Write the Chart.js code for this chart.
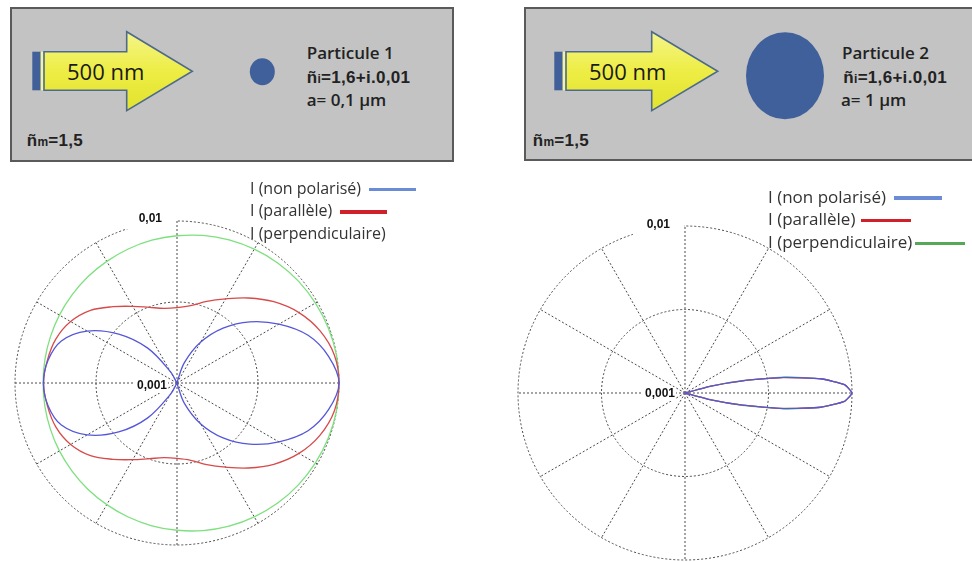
<!DOCTYPE html>
<html><head><meta charset="utf-8">
<script src="https://cdn.jsdelivr.net/npm/chart.js@4"></script>
<style>
html,body{margin:0;padding:0;background:#fff;}
body{width:972px;height:562px;overflow:hidden;position:relative;font-family:"Open Sans",sans-serif;}
#art{position:absolute;left:0;top:0;}
.t{position:absolute;white-space:nowrap;color:#222;line-height:1;transform:translateY(-50%);}
.os{font-family:"Open Sans",sans-serif;font-weight:600;font-size:17px;}
.ar{font-family:"Liberation Sans",Arial,sans-serif;font-weight:bold;font-size:17px;letter-spacing:0.3px;}
.sm{font-size:12px;}
.nm{font-family:"Open Sans",sans-serif;font-size:22px;color:#1a1a1a;}
.cv{position:absolute;}
.lg{position:absolute;color:#333;font-family:"Open Sans",sans-serif;white-space:nowrap;}
.lg div{height:22.6px;line-height:22.6px;}
.lg i{display:inline-block;height:3.5px;vertical-align:middle;}
</style>
</head>
<body>
<svg id="art" width="972" height="562">
  <defs>
    <linearGradient id="yg" x1="0" y1="0" x2="0" y2="1">
      <stop offset="0" stop-color="#f5f58a"/>
      <stop offset="0.5" stop-color="#eded45"/>
      <stop offset="1" stop-color="#e2e22e"/>
    </linearGradient>
  </defs>
  <rect x="11" y="8" width="442" height="153" fill="#c3c3c3" stroke="#5a5a5a" stroke-width="2"/>
  <rect x="525" y="8" width="460" height="152" fill="#c3c3c3" stroke="#5a5a5a" stroke-width="2"/>
  <rect x="32.3" y="51.7" width="8.4" height="38.6" fill="#41609a"/>
  <rect x="40.7" y="51.7" width="2.8" height="38.6" fill="#f3f3a0"/>
  <polygon points="44,51.7 126.7,51.7 126.7,31.7 192.3,71.2 126.7,110.7 126.7,90.3 44,90.3" fill="url(#yg)" stroke="#4d6a8c" stroke-width="1.6" stroke-linejoin="miter"/>
  <rect x="554.3" y="51.7" width="8.4" height="38.6" fill="#41609a"/>
  <rect x="562.7" y="51.7" width="2.8" height="38.6" fill="#f3f3a0"/>
  <polygon points="566,51.7 651.7,51.7 651.7,31.7 717.7,71.2 651.7,110.7 651.7,90.3 566,90.3" fill="url(#yg)" stroke="#4d6a8c" stroke-width="1.6" stroke-linejoin="miter"/>
  <ellipse cx="262.3" cy="71.7" rx="12.5" ry="13.5" fill="#40609b"/>
  <ellipse cx="785" cy="75.7" rx="39" ry="43.5" fill="#40609b"/>
</svg>

<div class="t nm" style="left:67px;top:71px">500 nm</div>
<div class="t os" style="left:306.7px;top:51.7px">Particule 1</div>
<div class="t ar" style="left:306.7px;top:77.3px">ñ<span class="sm">i</span>=1,6+i.0,01</div>
<div class="t os" style="left:306.7px;top:99.3px">a= 0,1 µm</div>
<div class="t ar" style="left:26.7px;top:140px">ñ<span class="sm">m</span>=1,5</div>

<div class="t nm" style="left:589px;top:71px">500 nm</div>
<div class="t os" style="left:842px;top:51.7px">Particule 2</div>
<div class="t ar" style="left:843.3px;top:77.3px">ñ<span class="sm">i</span>=1,6+i.0,01</div>
<div class="t os" style="left:841px;top:99px">a= 1 µm</div>
<div class="t ar" style="left:532.7px;top:140px">ñ<span class="sm">m</span>=1,5</div>

<div class="cv" style="left:1px;top:207px;width:352px;height:352px"><canvas id="c1" width="352" height="352"></canvas></div>
<div class="cv" style="left:504px;top:212px;width:362px;height:362px"><canvas id="c2" width="362" height="362"></canvas></div>

<div class="lg" style="left:250px;top:176.7px;font-size:16px">
  <div>I (non polarisé)<i style="margin-left:8px;width:47px;background:#6a8cd5"></i></div>
  <div>I (parallèle)<i style="margin-left:8px;width:47px;background:#d0202a"></i></div>
  <div>I (perpendiculaire)</div>
</div>
<div class="lg" style="left:768px;top:185.7px;font-size:17px">
  <div>I (non polarisé)<i style="margin-left:8px;width:48px;background:#6a8cd5"></i></div>
  <div>I (parallèle)<i style="margin-left:6px;width:50px;background:#d0202a"></i></div>
  <div>I (perpendiculaire)<i style="margin-left:3px;width:50px;background:#55a855"></i></div>
</div>

<script>
// ---- data ----
const seriesNames = ['I (non polarisé)', 'I (parallèle)', 'I (perpendiculaire)'];
const curveColors = ['#5557d8', '#d84a4a', '#7ee07e'];
const tickLabels = ['0,001', '0,01'];
const tickValues = [0.001, 0.01];

// Particle 1: scattering angle, clockwise from the right, every 10°
const angles1 = ['0','10','20','30','40','50','60','70','80','90','100','110','120','130','140','150','160','170',
                 '180','190','200','210','220','230','240','250','260','270','280','290','300','310','320','330','340','350'];
const p1NonPol = [0.01000,0.00891,0.00726,0.00533,0.00387,0.00277,0.00195,0.00136,0.00102,0.00100,0.00100,0.00100,0.00120,0.00191,0.00295,0.00438,0.00575,0.00643,
                  0.00667,0.00643,0.00575,0.00438,0.00295,0.00191,0.00120,0.00100,0.00100,0.00100,0.00102,0.00136,0.00195,0.00277,0.00387,0.00533,0.00726,0.00891];
const p1Par    = [0.01000,0.00970,0.00871,0.00740,0.00603,0.00484,0.00398,0.00344,0.00305,0.00292,0.00294,0.00314,0.00352,0.00412,0.00498,0.00573,0.00624,0.00649,
                  0.00667,0.00649,0.00624,0.00573,0.00498,0.00412,0.00352,0.00314,0.00294,0.00292,0.00305,0.00344,0.00398,0.00484,0.00603,0.00740,0.00871,0.00970];
const p1Perp   = [0.01000,0.00998,0.00986,0.00970,0.00951,0.00927,0.00899,0.00871,0.00841,0.00811,0.00785,0.00759,0.00736,0.00718,0.00701,0.00689,0.00679,0.00673,
                  0.00671,0.00673,0.00679,0.00689,0.00701,0.00718,0.00736,0.00759,0.00785,0.00811,0.00841,0.00871,0.00899,0.00927,0.00951,0.00970,0.00986,0.00998];

// Particle 2: every 3°
const angles2 = [];
for (let a = 0; a < 360; a += 3) angles2.push(String(a));
const p2NonPol = [
 0.01000,0.00904,0.00656,0.00395,0.00225,0.00145,0.001,0.001,0.001,0.001,0.001,0.001,
 0.001,0.001,0.001,0.001,0.001,0.001,0.001,0.001,0.001,0.001,0.001,0.001,
 0.001,0.001,0.001,0.001,0.001,0.001,0.001,0.001,0.001,0.001,0.001,0.001,
 0.001,0.001,0.001,0.001,0.001,0.001,0.001,0.001,0.001,0.001,0.001,0.001,
 0.001,0.001,0.001,0.001,0.001,0.001,0.001,0.001,0.001,0.001,0.001,0.001,
 0.001,0.001,0.001,0.001,0.001,0.001,0.001,0.001,0.001,0.001,0.001,0.001,
 0.001,0.001,0.001,0.001,0.001,0.001,0.001,0.001,0.001,0.001,0.001,0.001,
 0.001,0.001,0.001,0.001,0.001,0.001,0.001,0.001,0.001,0.001,0.001,0.001,
 0.001,0.001,0.001,0.001,0.001,0.001,0.001,0.001,0.001,0.001,0.001,0.001,
 0.001,0.001,0.001,0.001,0.001,0.001,0.001,0.00145,0.00225,0.00395,0.00656,0.00904];
const p2Par = [
 0.01000,0.00904,0.00656,0.00389,0.00225,0.00145,0.001,0.001,0.001,0.001,0.001,0.001,
 0.001,0.001,0.001,0.001,0.001,0.001,0.001,0.001,0.001,0.001,0.001,0.001,
 0.001,0.001,0.001,0.001,0.001,0.001,0.001,0.001,0.001,0.001,0.001,0.001,
 0.001,0.001,0.001,0.001,0.001,0.001,0.001,0.001,0.001,0.001,0.001,0.001,
 0.001,0.001,0.001,0.001,0.001,0.001,0.001,0.001,0.001,0.001,0.001,0.001,
 0.001,0.001,0.001,0.001,0.001,0.001,0.001,0.001,0.001,0.001,0.001,0.001,
 0.001,0.001,0.001,0.001,0.001,0.001,0.001,0.001,0.001,0.001,0.001,0.001,
 0.001,0.001,0.001,0.001,0.001,0.001,0.001,0.001,0.001,0.001,0.001,0.001,
 0.001,0.001,0.001,0.001,0.001,0.001,0.001,0.001,0.001,0.001,0.001,0.001,
 0.001,0.001,0.001,0.001,0.001,0.001,0.001,0.00145,0.00225,0.00389,0.00656,0.00904];
const p2Perp = [
 0.01000,0.00904,0.00656,0.00409,0.00229,0.00145,0.001,0.001,0.001,0.001,0.001,0.001,
 0.001,0.001,0.001,0.001,0.001,0.001,0.001,0.001,0.001,0.001,0.001,0.001,
 0.001,0.001,0.001,0.001,0.001,0.001,0.001,0.001,0.001,0.001,0.001,0.001,
 0.001,0.001,0.001,0.001,0.001,0.001,0.001,0.001,0.001,0.001,0.001,0.001,
 0.001,0.001,0.001,0.001,0.001,0.001,0.001,0.001,0.001,0.001,0.001,0.001,
 0.001,0.001,0.001,0.001,0.001,0.001,0.001,0.001,0.001,0.001,0.001,0.001,
 0.001,0.001,0.001,0.001,0.001,0.001,0.001,0.001,0.001,0.001,0.001,0.001,
 0.001,0.001,0.001,0.001,0.001,0.001,0.001,0.001,0.001,0.001,0.001,0.001,
 0.001,0.001,0.001,0.001,0.001,0.001,0.001,0.001,0.001,0.001,0.001,0.001,
 0.001,0.001,0.001,0.001,0.001,0.001,0.001,0.00145,0.00229,0.00409,0.00656,0.00904];

// ---- drawing ----
const tickLabelPlugin = {
  id: 'tickLabelsLog',
  beforeDatasetsDraw(chart, args, opts) {
    const s = chart.scales.r, ctx = chart.ctx;
    ctx.save();
    ctx.font = 'bold 12px "Liberation Sans", Arial, sans-serif';
    ctx.textAlign = 'right';
    ctx.textBaseline = 'middle';
    tickLabels.forEach((lab, k) => {
      const d = s.getDistanceFromCenterForValue(Math.log10(tickValues[k]));
      const outer = d > 1;
      const x = s.xCenter - (outer ? 15 : 10);
      const y = s.yCenter - d + (outer ? opts.dyOuter : opts.dyCenter);
      const w = ctx.measureText(lab).width;
      ctx.fillStyle = '#fff';
      if (outer) ctx.fillRect(s.xCenter - 52, y - 9, 51, 19);
      else ctx.fillRect(x - w - 2, y - 7, w + 3, 14);
      ctx.fillStyle = '#111';
      ctx.fillText(lab, x, y);
    });
    ctx.restore();
  }
};

function makeChart(id, labels, values, tension, spokeEvery, dyOuter, dyCenter) {
  return new Chart(document.getElementById(id), {
    type: 'radar',
    data: {
      labels: labels,
      datasets: values.map((vals, k) => ({
        label: seriesNames[k],
        data: vals.map(v => Math.log10(v)),
        borderColor: curveColors[k],
        borderWidth: 1.3,
        pointRadius: 0,
        fill: false,
        tension: tension
      }))
    },
    options: {
      responsive: false,
      animation: false,
      events: [],
      layout: { padding: 14 },
      plugins: {
        legend: { display: false },
        tooltip: { enabled: false },
        tickLabelsLog: { dyOuter: dyOuter, dyCenter: dyCenter }
      },
      scales: {
        r: {
          min: -3, max: -2, beginAtZero: false, startAngle: 90,
          ticks: { display: false, stepSize: 0.5 },
          pointLabels: { display: false },
          grid: { circular: true, color: '#4a4a4a', lineWidth: c => (c.index === 0 ? 0 : 1) },
          border: { dash: [2, 2] },
          angleLines: { color: '#4a4a4a', borderDash: [2, 2], lineWidth: c => (c.index % spokeEvery === 0 ? 1 : 0) }
        }
      }
    },
    plugins: [tickLabelPlugin]
  });
}

makeChart('c1', angles1, [p1NonPol, p1Par, p1Perp], 0.35, 3, -2, 3);
makeChart('c2', angles2, [p2NonPol, p2Par, p2Perp], 0.15, 10, -1, 1);
</script>
</body></html>
